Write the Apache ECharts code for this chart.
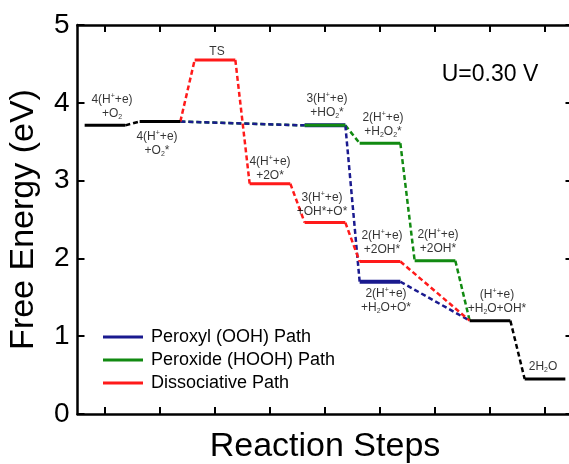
<!DOCTYPE html>
<html>
<head>
<meta charset="utf-8">
<script src="https://cdn.jsdelivr.net/npm/echarts@6/dist/echarts.min.js"></script>
<style>
  html, body { margin: 0; padding: 0; background: #fff; }
  #chart { width: 569px; height: 464px; }
</style>
</head>
<body>
<div id="chart"></div>
<script>
// reaction step positions (tick marks on the x axis)
const stepTicks = [0, 1, 2, 3, 4, 5, 6, 7, 8];

// shared states: O2 in solution, O2*, H2O+OH*, 2H2O
const commonSteps = [0, 1, 7, 8];
const commonEnergy = [3.71, 3.76, 1.20, 0.45];

// peroxyl (OOH) path
const peroxylSteps = [1, 4, 5, 7];
const peroxylEnergy = [3.76, 3.71, 1.70, 1.20];

// peroxide (HOOH) path
const peroxideSteps = [1, 4, 5, 6, 7];
const peroxideEnergy = [3.76, 3.71, 3.48, 1.97, 1.20];

// dissociative path
const dissocSteps = [1, 2, 3, 4, 5, 7];
const dissocEnergy = [3.76, 4.55, 2.96, 2.46, 1.96, 1.20];

// state labels and the level they belong to
const labelText = [
  '4(H{sup|+}+e)\n+O{sub|2}',
  '4(H{sup|+}+e)\n+O{sub|2}*',
  'TS',
  '4(H{sup|+}+e)\n+2O*',
  '3(H{sup|+}+e)\n+OH*+O*',
  '3(H{sup|+}+e)\n+HO{sub|2}*',
  '2(H{sup|+}+e)\n+H{sub|2}O{sub|2}*',
  '2(H{sup|+}+e)\n+2OH*',
  '2(H{sup|+}+e)\n+2OH*',
  '2(H{sup|+}+e)\n+H{sub|2}O+O*',
  '(H{sup|+}+e)\n+H{sub|2}O+OH*',
  '2H{sub|2}O'
];
const labelAnchors = [
  [0, 3.71], [1, 3.76], [2, 4.55], [3, 2.96], [4, 2.46], [4, 3.71],
  [5, 3.48], [5, 1.96], [6, 1.97], [5, 1.70], [7, 1.20], [8, 0.45]
];
const labelOffsets = [
  [7, -19], [-3, 22], [2, -8], [0, -15], [-3, -18], [2, -20],
  [3, -19], [2, -19], [3, -19], [6, 19], [7, -19], [-2, -12]
];

const FONT = '"Liberation Sans", Arial, sans-serif';
const HALF = 0.37; // half width of an energy level, in steps
const BLUE = '#1a1a8f', GREEN = '#118a11', RED = '#ff1a1a', BLACK = '#000';

function levelData(steps, energy, from, to) {
  const out = [];
  for (let i = from; i <= to; i++) {
    out.push([steps[i] - HALF, energy[i]], [steps[i] + HALF, energy[i]], [steps[i], '-']);
  }
  return out;
}

function connectorData(steps, energy, onlyAdjacent) {
  const out = [];
  for (let i = 0; i < steps.length - 1; i++) {
    if (onlyAdjacent && steps[i + 1] - steps[i] !== 1) continue;
    out.push([steps[i] + HALF, energy[i]], [steps[i + 1] - HALF, energy[i + 1]], [steps[i], '-']);
  }
  return out;
}

function lineSeries(name, color, data, width, dashed, z) {
  return {
    name: name,
    type: 'line',
    data: data,
    showSymbol: false,
    symbol: 'none',
    connectNulls: false,
    z: z,
    color: color,
    lineStyle: { color: color, width: width, type: dashed ? [5, 3] : 'solid', cap: 'butt' }
  };
}

// z: connectors below levels; blue dashes over green where they share a segment
const paths = [
  { name: 'Peroxyl (OOH) Path', color: BLUE, steps: peroxylSteps, energy: peroxylEnergy, width: 4, zLevel: 5, zDash: 3 },
  { name: 'Peroxide (HOOH) Path', color: GREEN, steps: peroxideSteps, energy: peroxideEnergy, width: 3, zLevel: 6, zDash: 2 },
  { name: 'Dissociative Path', color: RED, steps: dissocSteps, energy: dissocEnergy, width: 3, zLevel: 7, zDash: 4 }
];

const series = [];
paths.forEach(p => {
  series.push(lineSeries(p.name, p.color, levelData(p.steps, p.energy, 1, p.steps.length - 2), p.width, false, p.zLevel));
  series.push(lineSeries(p.name, p.color, connectorData(p.steps, p.energy, false), 2.5, true, p.zDash));
});
series.push(lineSeries('common', BLACK, levelData(commonSteps, commonEnergy, 0, commonSteps.length - 1), 3, false, 8));
series.push(lineSeries('common', BLACK, connectorData(commonSteps, commonEnergy, true), 2.5, true, 4));

series.push({
  type: 'scatter',
  symbolSize: 0,
  silent: true,
  z: 9,
  data: labelAnchors.map((p, i) => ({
    value: p,
    label: { formatter: labelText[i], offset: labelOffsets[i] }
  })),
  label: {
    show: true,
    position: 'inside',
    color: '#000',
    fontFamily: FONT,
    fontSize: 12,
    lineHeight: 14,
    align: 'center',
    rich: {
      sup: { fontFamily: FONT, fontSize: 7, lineHeight: 7, verticalAlign: 'top', color: '#000' },
      sub: { fontFamily: FONT, fontSize: 7, lineHeight: 7, verticalAlign: 'bottom', color: '#000' }
    }
  }
});

const axisLine = { show: true, onZero: false, lineStyle: { color: '#000', width: 2.5 } };
const tickStyle = { color: '#000', width: 2 };

const chart = echarts.init(document.getElementById('chart'), null, { renderer: 'canvas' });
chart.setOption({
  animation: false,
  backgroundColor: '#fff',
  textStyle: { fontFamily: FONT },
  grid: { left: 77.5, top: 25, width: 495, height: 389, outerBoundsMode: 'none', containLabel: false },
  legend: {
    data: paths.map(p => p.name),
    orient: 'vertical',
    left: 98,
    top: 323,
    icon: 'rect',
    itemWidth: 40,
    itemHeight: 3,
    itemGap: 5,
    selectedMode: false,
    textStyle: { fontFamily: FONT, fontSize: 18, color: '#000', padding: [0, 0, 0, 3] }
  },
  graphic: [{
    type: 'text',
    x: 490,
    y: 75,
    style: { text: 'U=0.30 V', fontFamily: FONT, fontSize: 23, fill: '#000', textAlign: 'center', textVerticalAlign: 'middle' }
  }],
  xAxis: [{
    type: 'value',
    position: 'bottom',
    min: -0.5,
    max: 8.5,
    axisLine: axisLine,
    axisTick: { show: true, inside: true, length: 7, lineStyle: tickStyle, customValues: stepTicks },
    axisLabel: { show: false },
    splitLine: { show: false },
    name: 'Reaction Steps',
    nameLocation: 'middle',
    nameGap: 16,
    nameTextStyle: { fontFamily: FONT, fontSize: 34, color: '#000', verticalAlign: 'top' }
  }, {
    type: 'value',
    position: 'top',
    min: -0.5,
    max: 8.5,
    axisLine: axisLine,
    axisTick: { show: true, inside: true, length: 7, lineStyle: tickStyle, customValues: stepTicks },
    axisLabel: { show: false },
    splitLine: { show: false }
  }],
  yAxis: [{
    type: 'value',
    position: 'left',
    min: 0,
    max: 5,
    interval: 1,
    axisLine: axisLine,
    axisTick: { show: true, inside: true, length: 7, lineStyle: tickStyle },
    axisLabel: { fontFamily: FONT, fontSize: 28, color: '#000', margin: 8 },
    splitLine: { show: false },
    name: 'Free Energy (eV)',
    nameLocation: 'middle',
    nameGap: 37,
    nameTextStyle: { fontFamily: FONT, fontSize: 34, color: '#000' }
  }, {
    type: 'value',
    position: 'right',
    min: 0,
    max: 5,
    interval: 1,
    axisLine: axisLine,
    axisTick: { show: true, inside: true, length: 7, lineStyle: tickStyle },
    axisLabel: { show: false },
    splitLine: { show: false }
  }],
  series: series
});
</script>
</body>
</html>
